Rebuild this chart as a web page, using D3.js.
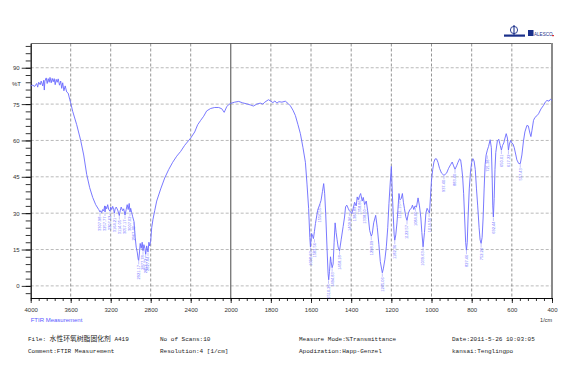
<!DOCTYPE html>
<html>
<head>
<meta charset="utf-8">
<script src="https://cdn.jsdelivr.net/npm/d3@7"></script>
<style>
body { margin: 0; background: #fff; }
svg { display: block; font-family: "Liberation Sans", Arial, sans-serif; }
.gridX line { stroke: #7a7a7a; stroke-dasharray: 3,2; stroke-width: 0.8; }
.gridY line { stroke: #a8a8a8; stroke-dasharray: 3,2; stroke-width: 0.8; }
.axis text { font-size: 6px; fill: #333; }
.axis line, .axis path { stroke: #000; stroke-width: 0.8; }
.info { font-family: "Liberation Mono", monospace; font-size: 6px; fill: #222; }
.peak { font-size: 4px; fill: #7474ff; }
</style>
</head>
<body>
<div id="chart"></div>
<script>
// spectrum, 4000-2000 1/cm  [wavenumber, %T]
const bandHigh = [
  [4000,82.5],[3980,82.8],[3960,82.3],[3940,83.5],[3930,82.0],[3920,84.0],[3905,83.0],[3895,84.5],
  [3880,82.5],[3870,84.8],[3864,80.8],[3858,84.5],[3845,85.8],[3835,83.5],[3825,85.5],[3815,84.0],
  [3807,86.0],[3795,83.8],[3785,85.6],[3775,84.2],[3765,85.5],[3755,83.0],[3745,85.2],[3735,84.0],
  [3725,85.4],[3712,82.8],[3700,84.5],[3690,81.5],[3680,83.8],[3668,80.5],[3655,82.5],[3640,80.0],
  [3625,79.5],[3610,77.0],[3600,75.5],[3580,72.0],[3540,66.5],[3500,60.0],[3470,54.0],[3440,46.0],
  [3410,40.5],[3380,36.5],[3350,33.5],[3320,31.5],[3307,30.5],[3300,31.0],[3290,30.2],[3280,31.5],
  [3270,31.0],[3260,33.0],[3257,30.5],[3250,32.8],[3240,31.8],[3230,33.5],[3220,31.5],[3207,30.8],
  [3200,32.5],[3190,31.5],[3180,32.8],[3170,31.5],[3164,30.0],[3155,31.8],[3145,32.5],[3130,31.3],
  [3114,29.0],[3105,31.0],[3095,32.5],[3080,31.0],[3070,31.8],[3057,29.2],[3045,31.5],[3035,33.5],
  [3025,31.5],[3015,34.0],[3007,30.5],[3000,32.0],[2990,30.2],[2980,28.5],[2967,26.5],[2955,20.0],
  [2945,16.0],[2935,14.0],[2925,11.0],[2920,10.5],[2912,14.0],[2905,17.5],[2895,15.5],[2885,18.0],
  [2877,14.5],[2868,17.0],[2858,15.5],[2850,13.0],[2840,16.5],[2827,14.0],[2818,18.0],[2810,16.5],
  [2800,18.5],[2790,24.0],[2777,27.5],[2760,31.0],[2740,35.0],[2700,40.0],[2660,44.5],[2620,48.0],
  [2580,51.0],[2540,53.5],[2500,55.5],[2460,58.0],[2420,60.0],[2400,61.0],[2360,63.5],[2330,66.5],
  [2300,68.3],[2270,70.0],[2240,72.2],[2200,73.2],[2160,73.6],[2120,73.6],[2090,73.1],[2075,72.2],
  [2065,71.6],[2055,72.5],[2040,73.9],[2020,74.8]
];

// spectrum, 2000-400 1/cm  [wavenumber, %T]
const bandLow = [
  [2000,75.3],[1980,75.8],[1960,76.1],[1940,75.5],[1920,75.1],[1900,74.6],[1887,74.2],[1870,75.0],
  [1853,75.4],[1840,75.0],[1830,75.8],[1812,76.8],[1800,76.2],[1790,75.6],[1780,76.3],[1770,75.4],
  [1760,76.0],[1745,75.8],[1728,76.2],[1715,75.3],[1703,74.3],[1690,72.5],[1678,70.3],[1665,66.5],
  [1653,62.8],[1640,57.0],[1628,51.0],[1620,42.0],[1612,32.0],[1606,20.0],[1603,16.1],[1597,21.6],
  [1592,20.5],[1588,19.5],[1583,22.5],[1578,25.7],[1567,31.2],[1555,34.0],[1550,35.3],[1543,39.0],
  [1537,42.2],[1532,38.0],[1527,30.0],[1520,15.0],[1515,5.0],[1512,2.5],[1508,6.0],[1503,12.0],
  [1500,10.0],[1495,7.5],[1490,9.0],[1485,18.0],[1480,26.0],[1475,22.0],[1470,19.0],[1465,16.0],
  [1458,14.5],[1450,19.0],[1440,24.5],[1433,28.4],[1428,32.6],[1422,33.3],[1415,32.0],[1409,31.0],
  [1403,30.5],[1397,29.8],[1390,32.0],[1383,34.5],[1375,33.0],[1370,36.7],[1365,35.5],[1358,37.2],
  [1353,38.1],[1345,35.0],[1340,36.5],[1333,33.5],[1325,35.0],[1318,31.0],[1308,22.9],[1300,20.5],
  [1295,21.5],[1288,26.0],[1278,29.1],[1270,24.0],[1262,17.0],[1255,10.0],[1245,5.4],[1240,7.0],
  [1232,11.0],[1225,16.1],[1218,24.0],[1212,33.9],[1206,42.0],[1200,49.3],[1195,38.0],[1190,28.0],
  [1186,21.0],[1183,18.8],[1178,21.0],[1172,26.0],[1166,33.0],[1162,38.1],[1157,35.5],[1151,36.0],
  [1145,38.1],[1140,34.5],[1135,32.0],[1128,28.5],[1122,27.0],[1115,30.0],[1108,31.5],[1100,32.0],
  [1095,33.3],[1088,31.5],[1082,33.0],[1075,32.5],[1067,36.3],[1060,33.0],[1053,28.0],[1048,22.0],
  [1042,16.1],[1035,22.0],[1028,30.0],[1022,32.0],[1016,31.0],[1010,30.0],[1005,37.0],[1000,43.6],
  [994,48.0],[988,51.1],[982,52.4],[975,52.4],[968,51.0],[960,48.5],[950,46.5],[938,45.6],
  [925,46.5],[915,48.5],[905,50.0],[897,51.1],[890,49.5],[883,48.1],[875,49.5],[868,51.0],
  [860,52.4],[855,52.0],[850,49.0],[845,45.0],[840,38.0],[835,28.0],[830,18.0],[826,14.7],
  [822,18.0],[818,28.0],[812,40.0],[806,47.0],[800,51.0],[794,52.5],[788,51.5],[782,48.0],
  [776,40.0],[770,33.0],[763,24.0],[758,19.0],[753,17.5],[748,20.0],[743,28.0],[738,40.0],
  [733,50.0],[728,54.0],[722,56.0],[716,57.5],[708,60.3],[702,57.0],[698,45.0],[695,33.0],
  [692,28.4],[688,36.0],[684,48.0],[680,55.0],[672,59.9],[665,60.5],[658,58.0],[652,56.0],
  [646,58.0],[640,59.0],[634,61.0],[628,62.8],[622,61.0],[617,56.0],[612,58.5],[606,60.0],
  [600,59.0],[594,58.5],[588,57.0],[580,54.0],[575,52.0],[566,50.5],[558,50.4],[550,54.0],
  [542,59.8],[535,63.5],[525,66.2],[518,66.0],[510,63.0],[505,61.6],[500,64.0],[492,68.3],
  [485,69.5],[475,70.2],[467,71.0],[455,73.0],[442,74.5],[432,76.0],[425,76.5],[415,76.2],
  [408,77.0],[400,76.5]
];

// peak picks
const peakWn = [3307,3257,3207,3164,3114,3057,3007,2967,2920,2877,2850,2827,
  1603,1583,1555,1513,1495,1458,1409,1383,1358,1333,1300,1245,
  1183,1158,1122,1080,1042,1012,938,883,826,753,722,692,652,617,558];
const peakLabel = ["3307.98","3257.77","3207.62","3164.21","3114.05","3057.17","3007.02","2967.48",
  "2921.17","2877.78","2852.72","2827.64","1608.63","1583.56","1556.55","1510.26","1494.83","1458.18",
  "1409.96","1384.89","1358.86","1338.60","1298.09","1245.06","1182.36","1161.15","1122.57","1084.00",
  "1039.63","1014.56","937.40","883.40","827.46","752.24","721.38","692.44","650.01","617.22","557.43"];

// axis ticks
const xMajor = [4000,3600,3200,2800,2400,2000,1800,1600,1400,1200,1000,800,600,400];
const xMinor = d3.range(4000, 2000, -80).concat(d3.range(2000, 399, -40));
const yMajor = [0,15,30,45,60,75,90];
const yMinor = d3.range(-3, 100, 3);

const infoRow1 = ["No of Scans:10", "Measure Mode:%Transmittance", "Date:2011-5-26 10:03:05"];
const infoRow2 = ["Comment:FTIR Measurement", "Resolution:4 [1/cm]", "Apodization:Happ-Genzel", "kansai:Tenglingpo"];

const width = 570;
const height = 374;
const plot = {left: 30.7, right: 552, top: 43.5, bottom: 298};

const svg = d3.select('#chart').append('svg').attr('width', width).attr('height', height);

const x = d3.scaleLinear().domain([4000, 2000, 400]).range([plot.left, 230.7, plot.right]);
const y = d3.scaleLinear().domain([-5, 100]).range([plot.bottom, plot.top]);

// grid
svg.append('g').attr('class', 'gridY').selectAll('line')
  .data(yMajor).join('line')
  .attr('x1', plot.left).attr('x2', plot.right)
  .attr('y1', d => y(d)).attr('y2', d => y(d));

svg.append('g').attr('class', 'gridX').selectAll('line')
  .data(xMajor.filter(d => d !== 4000 && d !== 400 && d !== 2000)).join('line')
  .attr('x1', d => x(d)).attr('x2', d => x(d))
  .attr('y1', plot.top).attr('y2', plot.bottom);

svg.append('line')
  .attr('x1', x(2000)).attr('x2', x(2000))
  .attr('y1', plot.top).attr('y2', plot.bottom)
  .attr('stroke', '#7d7d7d').attr('stroke-width', 1.4);

// frame
svg.append('line').attr('x1', plot.left).attr('x2', plot.right)
  .attr('y1', plot.top).attr('y2', plot.top).attr('stroke', '#444').attr('stroke-width', 0.8);
svg.append('line').attr('x1', plot.right).attr('x2', plot.right)
  .attr('y1', plot.top - 0.4).attr('y2', plot.bottom).attr('stroke', '#8a8a8a').attr('stroke-width', 2);

// axes
const yAxisGroup = svg.append('g').attr('class', 'axis').attr('transform', `translate(${plot.left},0)`);
yAxisGroup.call(d3.axisLeft(y).tickValues(yMinor).tickSize(5).tickSizeOuter(0).tickFormat(''));
yAxisGroup.append('g').call(d3.axisLeft(y).tickValues(yMajor).tickSize(9).tickSizeOuter(0).tickPadding(2));
yAxisGroup.selectAll('path.domain').attr('stroke-width', 1);

const xAxisGroup = svg.append('g').attr('class', 'axis').attr('transform', `translate(0,${plot.bottom})`);
xAxisGroup.call(d3.axisBottom(x).tickValues(xMinor).tickSize(3).tickSizeOuter(0).tickFormat(''));
xAxisGroup.append('g').call(d3.axisBottom(x).tickValues(xMajor).tickSize(5).tickSizeOuter(0)
  .tickPadding(5).tickFormat(d3.format('d')));

svg.append('text').attr('x', 12).attr('y', 86).attr('font-size', 6).attr('fill', '#333').text('%T');
svg.append('text').attr('x', plot.left).attr('y', 322).attr('font-size', 6).attr('fill', '#5a5aff').text('FTIR Measurement');
svg.append('text').attr('x', 552).attr('y', 322).attr('font-size', 5.5).attr('fill', '#333')
  .attr('text-anchor', 'end').text('1/cm');

// spectrum
const spectrum = bandHigh.concat(bandLow);
const line = d3.line().x(d => x(d[0])).y(d => y(d[1]));

svg.append('path').datum(spectrum)
  .attr('d', line)
  .attr('fill', 'none')
  .attr('stroke', '#6a6aff')
  .attr('stroke-width', 0.9);

// peak labels below each local minimum
const localMin = wn => d3.min(spectrum.filter(d => Math.abs(d[0] - wn) <= 6), d => d[1]);
const peaks = svg.append('g');
peakWn.forEach((wn, i) => {
  const py = y(localMin(wn));
  peaks.append('line')
    .attr('x1', x(wn)).attr('x2', x(wn))
    .attr('y1', py + 0.5).attr('y2', py + 4)
    .attr('stroke', '#8a8aff').attr('stroke-width', 0.5);
  peaks.append('text')
    .attr('class', 'peak')
    .attr('transform', `translate(${x(wn) + 1.4},${py + 4.5}) rotate(-90)`)
    .attr('text-anchor', 'end')
    .text(peakLabel[i]);
});

// logos
const logo = svg.append('g');
logo.append('circle').attr('cx', 514).attr('cy', 30).attr('r', 3.6)
  .attr('fill', 'none').attr('stroke', '#1a2f8a').attr('stroke-width', 0.9);
logo.append('line').attr('x1', 514).attr('x2', 514).attr('y1', 25).attr('y2', 35)
  .attr('stroke', '#1a2f8a').attr('stroke-width', 1.1);
logo.append('rect').attr('x', 504).attr('y', 34.5).attr('width', 21).attr('height', 2.2).attr('fill', '#1a2f8a');
logo.append('rect').attr('x', 528).attr('y', 30).attr('width', 5.5).attr('height', 6).attr('fill', '#1a2f8a');
logo.append('text').attr('x', 534).attr('y', 35.5).attr('font-size', 4.6).attr('fill', '#1a2f8a').text('ALESCO');
logo.append('rect').attr('x', 552).attr('y', 35).attr('width', 2).attr('height', 1.2).attr('fill', '#e03030');

// info block
const info = svg.append('g').attr('class', 'info');
const fileText = info.append('text').attr('x', 28).attr('y', 341);
fileText.append('tspan').text('File:   ');
fileText.append('tspan').attr('font-family', '"Noto Sans CJK SC"').attr('font-size', 6.8).text('水性环氧树脂固化剂');
fileText.append('tspan').text(' A419');

const col = [160, 299, 452];
infoRow1.forEach((t, i) => info.append('text').attr('x', col[i]).attr('y', 341).text(t));
const col2 = [28, 160, 299, 452];
infoRow2.forEach((t, i) => info.append('text').attr('x', col2[i]).attr('y', 353).text(t));
</script>
</body>
</html>
